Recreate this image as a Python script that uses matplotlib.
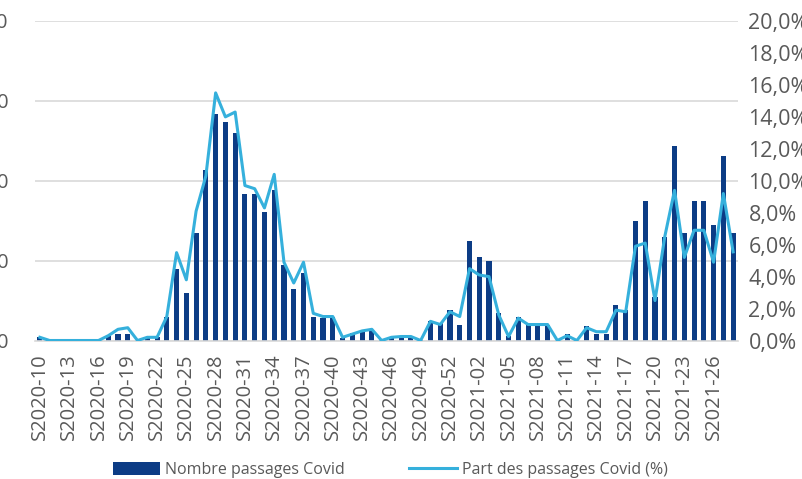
import matplotlib
matplotlib.use("Agg")
import matplotlib.pyplot as plt
from matplotlib.ticker import FuncFormatter, MultipleLocator

plt.rcParams['font.family'] = ['Open Sans', 'DejaVu Sans']

# Weekly labels: S2020-10 .. S2020-53, then S2021-01 .. S2021-28
weeks = [f"S2020-{w:02d}" for w in range(10, 54)] + [f"S2021-{w:02d}" for w in range(1, 29)]

# Number of Covid emergency visits per week
passages = [
    4, 0, 0, 0, 0, 0, 0, 6, 8, 8,
    0, 3, 4, 30, 90, 60, 134, 214, 284, 274,
    260, 184, 184, 161, 189, 95, 65, 85, 30, 28,
    30, 3, 9, 12, 13, 1, 4, 4, 4, 1,
    24, 22, 38, 19, 124, 104, 99, 35, 6, 30,
    21, 19, 19, 0, 8, 0, 18, 8, 8, 44,
    38, 150, 175, 55, 130, 244, 134, 175, 175, 145,
    231, 134,
]

# Share of Covid visits among all visits (%)
part = [
    0.2, 0.0, 0.0, 0.0, 0.0, 0.0, 0.0, 0.3, 0.7, 0.8,
    0.0, 0.2, 0.2, 1.5, 5.5, 3.8, 8.1, 10.3, 15.5, 14.0,
    14.3, 9.7, 9.5, 8.3, 10.4, 4.9, 3.6, 4.9, 1.7, 1.5,
    1.5, 0.2, 0.4, 0.6, 0.7, 0.0, 0.2, 0.25, 0.25, 0.0,
    1.2, 1.0, 1.8, 1.5, 4.5, 4.1, 4.0, 1.6, 0.25, 1.4,
    1.0, 1.0, 1.0, 0.0, 0.3, 0.0, 0.8, 0.55, 0.55, 1.9,
    1.8, 5.9, 6.1, 2.5, 6.5, 9.4, 5.2, 6.9, 6.9, 4.9,
    9.2, 5.55,
]

bar_color = "#0c3c85"
line_color = "#35b0dc"
text_color = "#595959"
grid_color = "#d9d9d9"

fig = plt.figure(figsize=(8.02, 4.79), dpi=100)
ax = fig.add_axes([35 / 802, 138.5 / 479, 703 / 802, 319.5 / 479])
ax2 = ax.twinx()

x = list(range(len(weeks)))
bars = ax.bar(x, passages, width=0.52, color=bar_color, zorder=2,
              label="Nombre passages Covid")
line, = ax2.plot(x, part, color=line_color, lw=2.2, zorder=3,
                 label="Part des passages Covid (%)")

ax.set_xlim(-0.5, len(weeks) - 0.5)
ax.set_ylim(0, 400)
ax.yaxis.set_major_locator(MultipleLocator(100))
ax.grid(axis="y", color=grid_color, lw=1.2, zorder=0)
ax.set_axisbelow(True)

ax2.set_ylim(0, 20)
ax2.yaxis.set_major_locator(MultipleLocator(2))
ax2.yaxis.set_major_formatter(FuncFormatter(lambda v, p: f"{v:.1f}%".replace(".", ",")))

for a in (ax, ax2):
    for s in a.spines.values():
        s.set_visible(False)
ax.spines["bottom"].set_visible(True)
ax.spines["bottom"].set_color(grid_color)
ax.spines["bottom"].set_linewidth(1.2)

ax.set_xticks(x[::3])
ax.set_xticklabels(weeks[::3], rotation=90, fontsize=14.5, color=text_color)
ax.tick_params(axis="x", length=0, pad=9)
ax.tick_params(axis="y", length=0, pad=19, labelsize=14.5, labelcolor=text_color)
ax2.tick_params(axis="y", length=0, pad=7.5, labelsize=15.5, labelcolor=text_color)

fig.legend(handles=[bars, line], loc="center", bbox_to_anchor=(390 / 802, 9 / 479),
           ncol=2, frameon=False, fontsize=11.5, labelcolor=text_color,
           handlelength=3.0, handleheight=0.9, handletextpad=0.3, columnspacing=4.0)

fig.savefig("out.png", dpi=100)
